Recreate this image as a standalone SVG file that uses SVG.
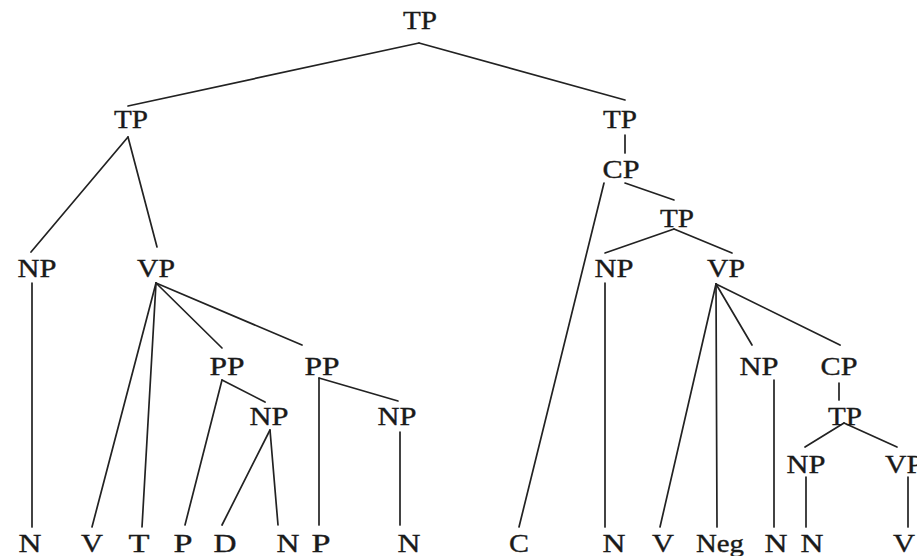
<svg xmlns="http://www.w3.org/2000/svg" width="917" height="556" viewBox="0 0 917 556">
<style>
text{font-family:"Liberation Serif","Times New Roman",serif;font-size:25px;fill:#1a1a1a;stroke:#1a1a1a;stroke-width:0.35;text-anchor:middle}
#edges line{stroke:#222;stroke-width:1.7;stroke-linecap:round}
</style>
<rect width="917" height="556" fill="#fff"/>
<g id="edges">
<line x1="419" y1="43" x2="128" y2="106"/>
<line x1="419" y1="43" x2="625" y2="100"/>
<line x1="128" y1="137" x2="31" y2="252"/>
<line x1="128" y1="137" x2="157" y2="247"/>
<line x1="32" y1="283" x2="32" y2="527"/>
<line x1="156" y1="283" x2="92" y2="527"/>
<line x1="156" y1="283" x2="142" y2="527"/>
<line x1="156" y1="283" x2="222" y2="348"/>
<line x1="156" y1="283" x2="302" y2="345"/>
<line x1="222" y1="380" x2="185" y2="525"/>
<line x1="222" y1="380" x2="265" y2="402"/>
<line x1="270" y1="430" x2="222" y2="525"/>
<line x1="270" y1="430" x2="278" y2="525"/>
<line x1="319" y1="378" x2="319" y2="525"/>
<line x1="319" y1="378" x2="398" y2="401"/>
<line x1="400" y1="432" x2="400" y2="525"/>
<line x1="625" y1="135" x2="625" y2="153"/>
<line x1="604" y1="183" x2="519" y2="527"/>
<line x1="625" y1="183" x2="674" y2="200"/>
<line x1="674" y1="229" x2="605" y2="253"/>
<line x1="674" y1="229" x2="732" y2="253"/>
<line x1="605" y1="283" x2="605" y2="527"/>
<line x1="716" y1="284" x2="660" y2="527"/>
<line x1="716" y1="284" x2="717" y2="527"/>
<line x1="716" y1="284" x2="752" y2="345"/>
<line x1="716" y1="284" x2="840" y2="345"/>
<line x1="774" y1="380" x2="774" y2="527"/>
<line x1="839" y1="383" x2="839" y2="400"/>
<line x1="844" y1="423" x2="805" y2="447"/>
<line x1="844" y1="423" x2="897" y2="447"/>
<line x1="806" y1="477" x2="806" y2="527"/>
<line x1="908" y1="477" x2="908" y2="527"/>
</g>
<g id="tp-root"><text x="420" y="29" textLength="34" lengthAdjust="spacingAndGlyphs">TP</text></g>
<g id="tp-left"><text x="131" y="128" textLength="34" lengthAdjust="spacingAndGlyphs">TP</text></g>
<g id="np-1"><text x="37" y="277" textLength="39" lengthAdjust="spacingAndGlyphs">NP</text></g>
<g id="vp-1"><text x="156" y="277" textLength="38" lengthAdjust="spacingAndGlyphs">VP</text></g>
<g id="pp-1"><text x="227" y="375" textLength="35" lengthAdjust="spacingAndGlyphs">PP</text></g>
<g id="pp-2"><text x="322" y="375" textLength="35" lengthAdjust="spacingAndGlyphs">PP</text></g>
<g id="np-2"><text x="269" y="425" textLength="39" lengthAdjust="spacingAndGlyphs">NP</text></g>
<g id="np-3"><text x="397" y="425" textLength="39" lengthAdjust="spacingAndGlyphs">NP</text></g>
<g id="tp-right"><text x="620" y="128" textLength="34" lengthAdjust="spacingAndGlyphs">TP</text></g>
<g id="cp-1"><text x="621" y="178" textLength="37" lengthAdjust="spacingAndGlyphs">CP</text></g>
<g id="tp-2"><text x="677" y="227" textLength="34" lengthAdjust="spacingAndGlyphs">TP</text></g>
<g id="np-4"><text x="614" y="277" textLength="39" lengthAdjust="spacingAndGlyphs">NP</text></g>
<g id="vp-2"><text x="726" y="277" textLength="38" lengthAdjust="spacingAndGlyphs">VP</text></g>
<g id="np-5"><text x="759" y="375" textLength="39" lengthAdjust="spacingAndGlyphs">NP</text></g>
<g id="cp-2"><text x="839" y="375" textLength="37" lengthAdjust="spacingAndGlyphs">CP</text></g>
<g id="tp-3"><text x="845" y="425" textLength="34" lengthAdjust="spacingAndGlyphs">TP</text></g>
<g id="np-6"><text x="806" y="473" textLength="39" lengthAdjust="spacingAndGlyphs">NP</text></g>
<g id="vp-3"><text x="904" y="473" textLength="38" lengthAdjust="spacingAndGlyphs">VP</text></g>
<g id="leaf-n1"><text x="30" y="552" textLength="23" lengthAdjust="spacingAndGlyphs">N</text></g>
<g id="leaf-v1"><text x="92" y="552" textLength="22" lengthAdjust="spacingAndGlyphs">V</text></g>
<g id="leaf-t1"><text x="139" y="552" textLength="21" lengthAdjust="spacingAndGlyphs">T</text></g>
<g id="leaf-p1"><text x="183" y="552" textLength="19" lengthAdjust="spacingAndGlyphs">P</text></g>
<g id="leaf-d1"><text x="225" y="552" textLength="23" lengthAdjust="spacingAndGlyphs">D</text></g>
<g id="leaf-n2"><text x="288" y="552" textLength="23" lengthAdjust="spacingAndGlyphs">N</text></g>
<g id="leaf-p2"><text x="321" y="552" textLength="19" lengthAdjust="spacingAndGlyphs">P</text></g>
<g id="leaf-n3"><text x="409" y="552" textLength="23" lengthAdjust="spacingAndGlyphs">N</text></g>
<g id="leaf-c1"><text x="519" y="552" textLength="20" lengthAdjust="spacingAndGlyphs">C</text></g>
<g id="leaf-n4"><text x="614" y="552" textLength="23" lengthAdjust="spacingAndGlyphs">N</text></g>
<g id="leaf-v2"><text x="663" y="552" textLength="22" lengthAdjust="spacingAndGlyphs">V</text></g>
<g id="leaf-neg"><text x="720" y="552" textLength="48" lengthAdjust="spacingAndGlyphs">Neg</text></g>
<g id="leaf-n5"><text x="776" y="552" textLength="23" lengthAdjust="spacingAndGlyphs">N</text></g>
<g id="leaf-n6"><text x="812" y="552" textLength="23" lengthAdjust="spacingAndGlyphs">N</text></g>
<g id="leaf-v3"><text x="904" y="552" textLength="22" lengthAdjust="spacingAndGlyphs">V</text></g>
</svg>
